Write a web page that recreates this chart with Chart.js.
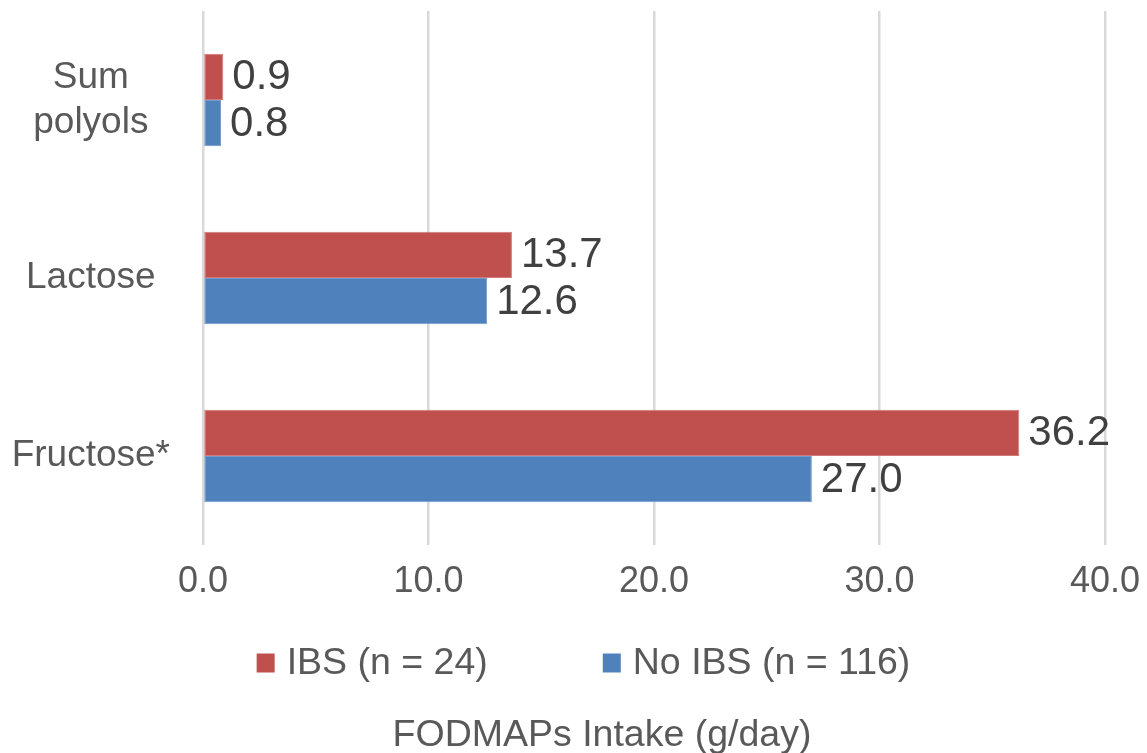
<!DOCTYPE html>
<html>
<head>
<meta charset="utf-8">
<title>FODMAPs Intake</title>
<script src="https://cdn.jsdelivr.net/npm/chart.js@4.4.1/dist/chart.umd.min.js"></script>
<style>
  html, body { margin: 0; padding: 0; background: #ffffff; }
  #wrap { width: 1147px; height: 753px; position: relative; }
</style>
</head>
<body>
<div id="wrap"><canvas id="chart"></canvas></div>
<script>
// Categories (top to bottom) and the two groups' mean intakes in g/day
const categories = [["Sum", "polyols"], "Lactose", "Fructose*"];
const ibsValues = [0.9, 13.7, 36.2];
const noIbsValues = [0.8, 12.6, 27.0];
const seriesNames = ["IBS (n = 24)", "No IBS (n = 116)"];
const xTicks = [0, 10, 20, 30, 40];
const axisTitle = "FODMAPs Intake (g/day)";

const FONT = "'Liberation Sans', Arial, Helvetica, sans-serif";
const TEXT_GREY = "#595959";
const RED = "#C0504D";
const BLUE = "#4F81BD";

// Value labels at the end of each bar
const valueLabels = {
  id: "valueLabels",
  afterDatasetsDraw(chart) {
    const ctx = chart.ctx;
    ctx.save();
    ctx.font = "42px " + FONT;
    ctx.fillStyle = "#404040";
    ctx.textAlign = "left";
    ctx.textBaseline = "middle";
    chart.data.datasets.forEach((ds, di) => {
      const meta = chart.getDatasetMeta(di);
      meta.data.forEach((bar, i) => {
        ctx.fillText(Number(ds.data[i]).toFixed(1), bar.x + 9, bar.y + 1);
      });
    });
    ctx.restore();
  }
};

// Legend row and axis title beneath the tick labels
const bottomBlock = {
  id: "bottomBlock",
  afterDraw(chart) {
    const ctx = chart.ctx;
    ctx.save();
    ctx.font = "37.5px " + FONT;
    ctx.textBaseline = "middle";
    ctx.textAlign = "left";
    const box = 18, gap = 12, itemGap = 115;
    const items = chart.data.datasets.map(ds => ({
      text: ds.label, color: ds.backgroundColor,
      w: box + gap + ctx.measureText(ds.label).width
    }));
    const total = items.reduce((s, it) => s + it.w, 0) + itemGap * (items.length - 1);
    let x = chart.width / 2 + 10 - total / 2;
    const y = chart.height - 90;
    items.forEach(it => {
      ctx.fillStyle = it.color;
      ctx.fillRect(x, y - 9.5, box, 19);
      ctx.fillStyle = TEXT_GREY;
      ctx.fillText(it.text, x + box + gap, y + 1);
      x += it.w + itemGap;
    });
    ctx.textAlign = "center";
    ctx.fillText(axisTitle, 602, chart.height - 17);
    ctx.restore();
  }
};

new Chart(document.getElementById("chart"), {
  type: "bar",
  data: {
    labels: categories,
    datasets: [
      {
        label: seriesNames[0],
        data: ibsValues,
        backgroundColor: RED,
        borderColor: "#d27a77",
        borderWidth: 1,
        borderSkipped: false,
        categoryPercentage: 0.52,
        barPercentage: 1.0
      },
      {
        label: seriesNames[1],
        data: noIbsValues,
        backgroundColor: BLUE,
        borderColor: "#7399c9",
        borderWidth: 1,
        borderSkipped: false,
        categoryPercentage: 0.52,
        barPercentage: 1.0
      }
    ]
  },
  options: {
    indexAxis: "y",
    responsive: true,
    maintainAspectRatio: false,
    animation: false,
    layout: { padding: { top: 11, right: 42, bottom: 142, left: 0 } },
    plugins: {
      legend: { display: false },
      title: { display: false },
      tooltip: { enabled: false }
    },
    scales: {
      x: {
        min: xTicks[0],
        max: xTicks[xTicks.length - 1],
        afterBuildTicks(scale) {
          scale.ticks = xTicks.map(v => ({ value: v }));
        },
        afterFit(scale) {
          scale.height = 66;
          scale.paddingLeft = 0;
          scale.paddingRight = 0;
        },
        grid: { color: "#d9d9d9", lineWidth: 2.5, drawTicks: false },
        border: { display: false },
        ticks: {
          padding: 15,
          color: TEXT_GREY,
          font: { family: FONT, size: 36, lineHeight: 1.2 },
          maxRotation: 0,
          callback: v => Number(v).toFixed(1)
        }
      },
      y: {
        grid: { display: false, drawTicks: false },
        border: { display: false },
        afterFit(scale) {
          scale.width = 203;
          scale.paddingTop = 0;
          scale.paddingBottom = 0;
        },
        ticks: {
          crossAlign: "center",
          padding: 33,
          color: TEXT_GREY,
          font: { family: FONT, size: 37, lineHeight: 1.22 }
        }
      }
    }
  },
  plugins: [valueLabels, bottomBlock]
});
</script>
</body>
</html>
